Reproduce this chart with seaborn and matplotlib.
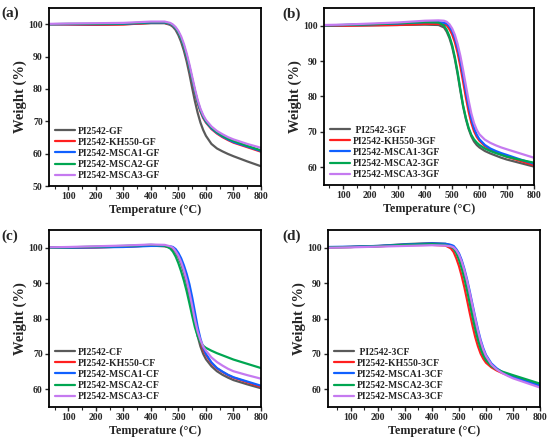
import pandas as pd
import numpy as np
import matplotlib
matplotlib.use("Agg")
import matplotlib.pyplot as plt
import seaborn as sns

sns.set_style("ticks")
plt.rcParams['font.family'] = ['Liberation Serif', 'DejaVu Serif']
plt.rcParams['font.weight'] = 'bold'
plt.rcParams['axes.labelweight'] = 'bold'

# temperature grid (°C)
temp = [30, 100, 200, 300, 400, 450, 470, 480, 490, 500, 510, 520, 530, 540, 550,
        560, 570, 580, 590, 600, 620, 640, 660, 680, 700, 750, 800]
temp_d = [15] + temp[1:]

# (a) GF
gray_a = [100.0, 100.0, 99.8, 100.0, 100.3, 100.3, 99.8, 99.2, 98.2, 96.6, 94.5, 91.8, 88.5, 84.6, 80.3, 76.2, 72.6, 69.6, 67.3, 65.5, 63.0, 61.6, 60.7, 59.9, 59.2, 57.6, 56.1]
red_a = [100.0, 99.9, 99.8, 99.9, 100.4, 100.4, 100.0, 99.5, 98.6, 97.3, 95.4, 92.9, 89.9, 86.4, 82.6, 78.9, 75.6, 73.0, 71.0, 69.6, 67.6, 66.2, 65.1, 64.2, 63.4, 62.0, 60.6]
blue_a = [100.0, 100.0, 100.0, 100.1, 100.5, 100.5, 100.1, 99.6, 98.7, 97.4, 95.5, 93.1, 90.1, 86.7, 82.9, 79.2, 75.9, 73.3, 71.3, 69.8, 67.8, 66.4, 65.3, 64.4, 63.6, 62.2, 60.8]
green_a = [100.0, 100.1, 100.1, 100.2, 100.6, 100.6, 100.2, 99.7, 98.8, 97.5, 95.6, 93.2, 90.3, 86.9, 83.1, 79.4, 76.1, 73.5, 71.5, 70.0, 68.0, 66.6, 65.5, 64.6, 63.9, 62.4, 61.0]
violet_a = [100.1, 100.2, 100.3, 100.4, 100.8, 100.8, 100.4, 99.9, 99.1, 97.9, 96.2, 93.9, 91.0, 87.6, 83.8, 80.0, 76.6, 73.9, 71.9, 70.4, 68.4, 67.0, 66.0, 65.1, 64.4, 63.0, 61.8]

# (b) 3GF
gray_b = [100.0, 100.0, 100.1, 100.2, 100.3, 100.2, 99.5, 98.3, 96.5, 94.0, 90.5, 86.3, 81.6, 77.2, 73.7, 70.9, 68.8, 67.3, 66.3, 65.6, 64.6, 63.9, 63.3, 62.7, 62.2, 61.2, 60.2]
red_b = [100.0, 100.0, 100.1, 100.2, 100.5, 100.5, 100.3, 100.1, 99.0, 97.5, 95.3, 92.3, 88.5, 84.2, 79.8, 75.8, 72.6, 70.2, 68.6, 67.5, 66.0, 65.0, 64.3, 63.6, 63.0, 61.8, 60.6]
blue_b = [100.1, 100.2, 100.4, 100.6, 101.0, 101.0, 100.8, 100.6, 99.8, 98.5, 96.5, 93.7, 90.2, 86.0, 81.6, 77.4, 73.8, 71.1, 69.2, 67.9, 66.3, 65.3, 64.6, 64.0, 63.5, 62.2, 61.0]
green_b = [100.1, 100.2, 100.4, 100.7, 101.0, 100.9, 100.0, 98.8, 97.0, 94.5, 91.0, 86.8, 82.0, 77.5, 74.0, 71.2, 69.2, 67.9, 67.0, 66.3, 65.3, 64.6, 64.0, 63.5, 63.0, 62.1, 61.3]
violet_b = [100.2, 100.3, 100.6, 100.9, 101.4, 101.5, 101.4, 101.1, 100.4, 99.2, 97.4, 94.8, 91.5, 87.5, 83.2, 79.0, 75.3, 72.5, 70.6, 69.3, 67.8, 66.9, 66.2, 65.6, 65.1, 63.9, 62.7]

# (c) CF
gray_c = [100.0, 100.0, 100.1, 100.3, 100.6, 100.4, 100.1, 99.7, 98.7, 97.3, 95.4, 93.0, 90.0, 86.5, 82.6, 78.6, 75.0, 72.1, 70.0, 68.5, 66.5, 65.1, 64.1, 63.3, 62.6, 61.4, 60.3]
red_c = [100.0, 100.0, 100.1, 100.3, 100.6, 100.5, 100.2, 99.9, 99.1, 97.9, 96.3, 94.2, 91.6, 88.4, 84.6, 80.4, 76.6, 73.6, 71.3, 69.7, 67.4, 65.9, 64.9, 64.0, 63.3, 62.0, 60.7]
blue_c = [100.0, 100.0, 100.1, 100.2, 100.5, 100.5, 100.4, 100.2, 99.6, 98.5, 97.0, 95.0, 92.6, 89.7, 86.0, 81.8, 77.6, 74.3, 71.8, 70.0, 67.6, 66.0, 65.0, 64.1, 63.4, 62.2, 61.0]
green_c = [100.0, 100.1, 100.3, 100.5, 100.8, 100.6, 99.8, 98.9, 97.5, 95.6, 93.3, 90.7, 87.7, 84.3, 80.8, 77.5, 75.0, 73.3, 72.3, 71.7, 70.9, 70.2, 69.6, 69.0, 68.4, 67.2, 66.0]
violet_c = [100.1, 100.2, 100.4, 100.6, 100.9, 100.8, 100.4, 100.0, 99.0, 97.7, 95.9, 93.6, 90.8, 87.4, 83.6, 79.6, 76.3, 73.9, 72.1, 70.9, 69.0, 67.7, 66.7, 65.8, 65.1, 64.0, 63.0]

# (d) 3CF
gray_d = [100.1, 100.2, 100.5, 101.0, 101.3, 101.1, 100.7, 100.3, 99.4, 98.0, 96.0, 93.4, 90.2, 86.7, 83.0, 79.3, 75.8, 72.8, 70.5, 68.9, 66.8, 65.6, 64.8, 64.1, 63.5, 62.3, 61.2]
red_d = [100.1, 100.2, 100.4, 100.7, 100.8, 100.6, 99.8, 98.8, 97.0, 94.8, 92.0, 88.8, 85.2, 81.5, 78.0, 74.8, 72.2, 70.1, 68.6, 67.5, 66.2, 65.3, 64.6, 64.0, 63.4, 62.1, 60.9]
blue_d = [100.2, 100.3, 100.5, 100.9, 101.2, 101.1, 100.8, 100.5, 99.6, 98.4, 96.5, 94.0, 91.0, 87.6, 84.0, 80.4, 77.0, 74.0, 71.6, 69.7, 67.3, 65.9, 64.9, 64.1, 63.4, 62.2, 61.1]
green_d = [100.1, 100.2, 100.4, 100.8, 101.0, 100.8, 100.3, 99.8, 98.5, 96.6, 94.2, 91.3, 87.9, 84.2, 80.5, 77.0, 74.0, 71.5, 69.6, 68.2, 66.6, 65.6, 65.0, 64.5, 64.0, 62.8, 61.6]
violet_d = [100.0, 100.1, 100.3, 100.5, 100.7, 100.6, 100.4, 100.1, 99.3, 98.0, 96.1, 93.6, 90.6, 87.2, 83.6, 80.0, 76.6, 73.6, 71.2, 69.4, 67.0, 65.6, 64.6, 63.8, 63.1, 61.8, 60.5]

names_a = ["PI2542-GF", "PI2542-KH550-GF", "PI2542-MSCA1-GF", "PI2542-MSCA2-GF", "PI2542-MSCA3-GF"]
names_b = [" PI2542-3GF", "PI2542-KH550-3GF", "PI2542-MSCA1-3GF", "PI2542-MSCA2-3GF", "PI2542-MSCA3-3GF"]
names_c = ["PI2542-CF", "PI2542-KH550-CF", "PI2542-MSCA1-CF", "PI2542-MSCA2-CF", "PI2542-MSCA3-CF"]
names_d = [" PI2542-3CF", "PI2542-KH550-3CF", "PI2542-MSCA1-3CF", "PI2542-MSCA2-3CF", "PI2542-MSCA3-3CF"]

colors = ["#5a5a5a", "#ff1f1f", "#1060ff", "#00a651", "#c57af0"]

panels = [
    ("(a)", temp, [gray_a, red_a, blue_a, green_a, violet_a], names_a, (30, 800), (50, 105), [50, 60, 70, 80, 90, 100]),
    ("(b)", temp, [gray_b, red_b, blue_b, green_b, violet_b], names_b, (30, 800), (55, 105), [60, 70, 80, 90, 100]),
    ("(c)", temp, [gray_c, red_c, blue_c, green_c, violet_c], names_c, (30, 800), (55, 105), [60, 70, 80, 90, 100]),
    ("(d)", temp_d, [gray_d, red_d, blue_d, green_d, violet_d], names_d, (15, 800), (55, 105), [60, 70, 80, 90, 100]),
]

# axes boxes in pixels: left, right, top, bottom
boxes = [(49, 261, 8, 186), (324, 534, 8, 185), (49, 261, 230, 407), (328, 540, 230, 407)]
labpos = [(1, 13), (282, 14), (1, 236), (282, 236)]

W, H = 550, 444
fig = plt.figure(figsize=(5.5, 4.44), dpi=100)

for (tag, t, series, names, xl, yl, yt), (l, r, tp, b), (lx, ly) in zip(panels, boxes, labpos):
    ax = fig.add_axes([l / W, 1 - b / H, (r - l) / W, (b - tp) / H])
    df = pd.concat([pd.DataFrame({"T": t, "W": s, "name": n}) for s, n in zip(series, names)])
    sns.lineplot(data=df, x="T", y="W", hue="name", hue_order=names, palette=colors,
                 estimator=None, sort=False, linewidth=1.6, legend=False, ax=ax)
    ax.set_xlim(*xl)
    ax.set_ylim(*yl)
    ax.set_xticks([100, 200, 300, 400, 500, 600, 700, 800])
    ax.set_xticks(np.arange(50, 801, 50), minor=True)
    ax.set_yticks(yt)
    ax.set_xlabel("Temperature (°C)", fontsize=8.7, labelpad=2)
    ax.set_ylabel("Weight (%)", fontsize=10.5, labelpad=1)
    ax.tick_params(axis="both", which="major", labelsize=7, length=3, width=1, direction="out", pad=1.5)
    ax.tick_params(axis="both", which="minor", length=1.8, width=0.8, direction="out")
    for lab in ax.get_xticklabels() + ax.get_yticklabels():
        lab.set_fontweight("bold")
    for sp in ax.spines.values():
        sp.set_visible(True)
        sp.set_linewidth(1.3)
        sp.set_color("black")
    ax.legend(handles=ax.lines, labels=names, loc="lower left", frameon=False,
              prop={"weight": "bold", "size": 7}, handlelength=2.1,
              labelspacing=0.22, handletextpad=0.3, borderaxespad=0.3, borderpad=0.3)
    fig.text(lx / W, 1 - ly / H, tag, fontsize=11, fontweight="bold", va="center", ha="left")

fig.savefig("out.png", dpi=100)
